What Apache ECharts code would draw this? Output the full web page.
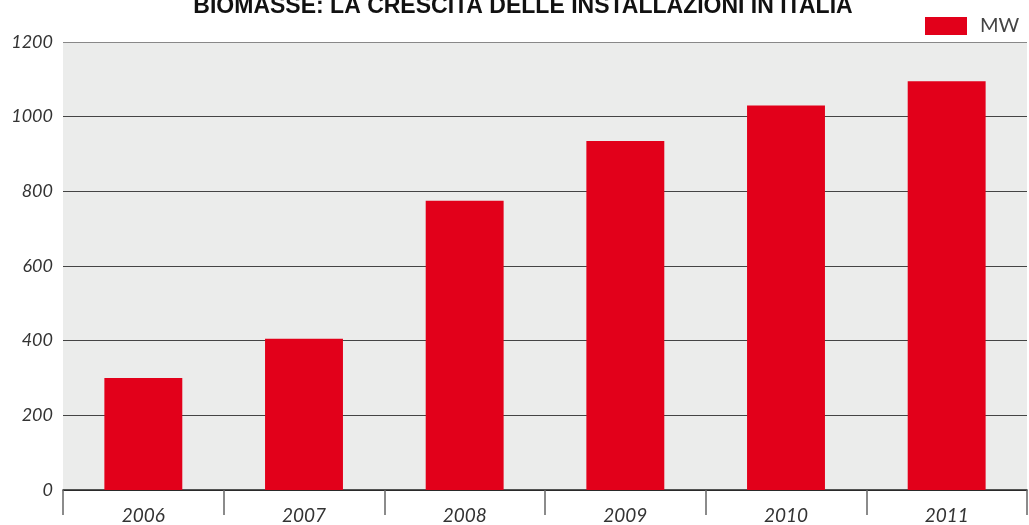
<!DOCTYPE html>
<html>
<head>
<meta charset="utf-8">
<script src="https://cdn.jsdelivr.net/npm/echarts@6/dist/echarts.min.js"></script>
<style>
  html, body { margin: 0; padding: 0; background: #fff; }
  #main { width: 1029px; height: 525px; }
</style>
</head>
<body>
<div id="main"></div>
<script>
var years = ['2006', '2007', '2008', '2009', '2010', '2011'];
var mw = [300, 405, 775, 935, 1030, 1095];
var yTicks = [0, 200, 400, 600, 800, 1000, 1200];

var chart = echarts.init(document.getElementById('main'));
chart.setOption({
    animation: false,
    backgroundColor: '#fff',
    title: {
        text: 'BIOMASSE: LA CRESCITA DELLE INSTALLAZIONI IN ITALIA',
        left: 518,
        textAlign: 'center',
        top: -10,
        textStyle: {
            fontFamily: 'Liberation Sans',
            fontWeight: 'bold',
            fontSize: 23,
            color: '#111'
        }
    },
    legend: {
        left: 920,
        top: 11,
        itemWidth: 42,
        itemHeight: 18,
        icon: 'rect',
        data: ['MW'],
        textStyle: { fontSize: 20, color: '#444', fontFamily: 'Lato', padding: [0, 0, 0, 8] }
    },
    grid: {
        left: 63,
        right: 2,
        top: 42,
        bottom: 34,
        show: true,
        backgroundColor: '#ebeceb',
        borderWidth: 0
    },
    xAxis: {
        type: 'category',
        data: years,
        axisLine: { lineStyle: { color: '#222', width: 1.5 } },
        axisTick: { show: true, length: 25, lineStyle: { color: '#666', width: 1.5 } },
        axisLabel: {
            margin: 16,
            fontSize: 19,
            fontStyle: 'italic',
            color: '#333',
            fontFamily: 'Lato'
        }
    },
    yAxis: {
        type: 'value',
        min: yTicks[0],
        max: yTicks[yTicks.length - 1],
        interval: 200,
        axisLine: { show: false },
        axisTick: { show: false },
        axisLabel: {
            margin: 10,
            fontSize: 18,
            fontStyle: 'italic',
            color: '#333',
            fontFamily: 'Lato',
            formatter: function (v) { return String(v); }
        },
        splitLine: { lineStyle: { color: ['#444', '#444', '#444', '#444', '#444', '#444', '#888'], width: 1 } }
    },
    series: [{
        name: 'MW',
        type: 'bar',
        data: mw,
        barWidth: '48.5%',
        itemStyle: { color: '#e2001a' }
    }]
});
</script>
</body>
</html>
